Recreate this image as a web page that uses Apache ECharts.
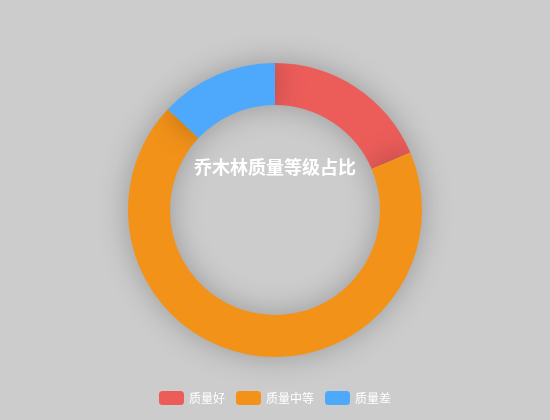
<!DOCTYPE html>
<html>
<head>
<meta charset="utf-8">
<script src="https://cdn.jsdelivr.net/npm/echarts@6/dist/echarts.min.js"></script>
<style>
  html, body { margin: 0; padding: 0; background: #cccccc; }
  #main { width: 550px; height: 420px; }
</style>
</head>
<body>
<div id="main"></div>
<script>
var categories = ['质量好', '质量中等', '质量差'];
var values = [18.6, 68.4, 13.0];
var colors = ['#ec5d5a', '#f39219', '#4ea8fb'];

var chart = echarts.init(document.getElementById('main'));
chart.setOption({
  backgroundColor: '#cccccc',
  color: colors,
  title: {
    text: '乔木林质量等级占比',
    left: 'center',
    top: 153,
    textStyle: {
      color: '#ffffff',
      fontSize: 18,
      fontWeight: 'bold',
      fontFamily: 'Noto Sans CJK SC'
    }
  },
  legend: {
    bottom: 10,
    left: 'center',
    itemGap: 11,
    data: categories,
    textStyle: { color: '#ffffff', fontSize: 12, fontFamily: 'Noto Sans CJK SC' }
  },
  series: [
    {
      name: '乔木林质量等级',
      type: 'pie',
      radius: ['50%', '70%'],
      center: ['50%', '50%'],
      label: { show: false },
      labelLine: { show: false },
      itemStyle: {
        shadowBlur: 30,
        shadowColor: 'rgba(0, 0, 0, 0.25)'
      },
      data: categories.map(function (c, i) {
        return { name: c, value: values[i] };
      })
    }
  ]
});
</script>
</body>
</html>
